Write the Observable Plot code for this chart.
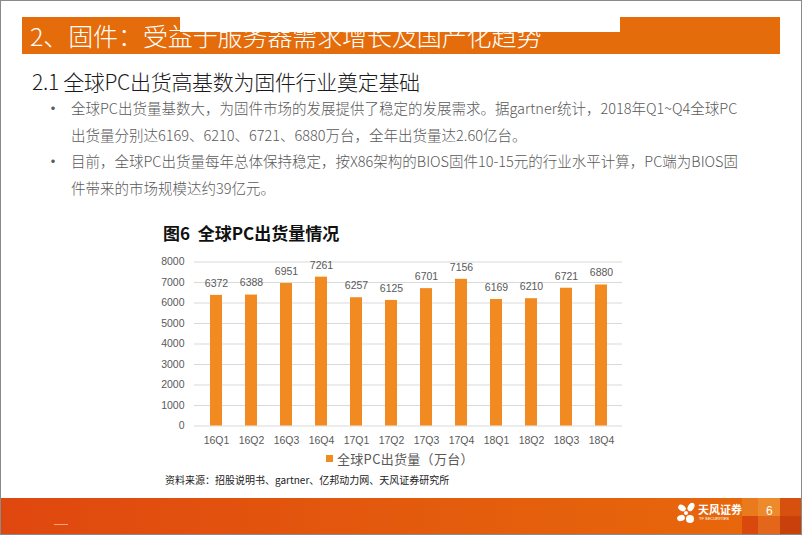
<!DOCTYPE html>
<html>
<head>
<meta charset="utf-8">
<script src="https://cdn.jsdelivr.net/npm/d3@7"></script>
<script src="https://cdn.jsdelivr.net/npm/@observablehq/plot@0.6"></script>
<style>
  html, body { margin: 0; padding: 0; background: #fff; }
  #slide { position: relative; width: 802px; height: 535px; overflow: hidden; background: #fff;
           font-family: "Noto Sans CJK SC", "Noto Sans", sans-serif; }
  .abs { position: absolute; white-space: nowrap; }
  #border { position: absolute; left: 0; top: 0; width: 800px; height: 533px; border: 1px solid #8a8a8a; pointer-events: none; z-index: 10; }
  #hdr { left: 22px; top: 17px; width: 758px; height: 37px; background: #E46C0A; }
  #hdrWhite { left: 180px; top: 17px; width: 440px; height: 15px; background: #fff; z-index: 2; }
  #hdrText { left: 30px; top: 19px; font-size: 25px; line-height: 32px; color: #fff; font-weight: 300; z-index: 3; letter-spacing: -0.1px; }
  #sub { left: 32px; top: 67px; font-size: 21px; line-height: 28px; color: #1a1a1a; font-weight: 300; letter-spacing: -0.3px; }
  .bul { font-size: 14.5px; line-height: 20px; color: #595959; font-weight: 300; }
  .dot { font-size: 16px; line-height: 20px; color: #595959; }
  #ctitle { left: 163px; top: 221px; font-size: 17px; line-height: 24px; font-weight: 700; color: #111; }
  #legend { left: 326px; top: 450px; font-size: 13px; line-height: 18px; color: #595959; letter-spacing: 0.3px; }
  #legend span.sw { display: inline-block; width: 7px; height: 7px; background: #F28A22; margin-right: 4px; vertical-align: 2px; }
  #source { left: 165px; top: 472px; font-size: 10px; line-height: 16px; color: #222; }
  #footer { left: 0; top: 498px; width: 802px; height: 37px;
            background: linear-gradient(90deg, #E0470F 0%, #E35A0D 50%, #E8690B 100%); }
  #chart { left: 150px; top: 240px; }
</style>
</head>
<body>
<div id="slide">
  <div id="hdr" class="abs"></div>
  <div id="hdrWhite" class="abs"></div>
  <div id="hdrText" class="abs">2、固件：受益于服务器需求增长及国产化趋势</div>
  <div id="sub" class="abs">2.1 全球PC出货高基数为固件行业奠定基础</div>

  <div class="abs dot" style="left:45px; top:97px;">•</div>
  <div class="abs bul" style="left:71px; top:98px;">全球PC出货量基数大，为固件市场的发展提供了稳定的发展需求。据gartner统计，2018年Q1~Q4全球PC</div>
  <div class="abs bul" style="left:71px; top:125px;">出货量分别达6169、6210、6721、6880万台，全年出货量达2.60亿台。</div>
  <div class="abs dot" style="left:45px; top:150px;">•</div>
  <div class="abs bul" style="left:71px; top:151px;">目前，全球PC出货量每年总体保持稳定，按X86架构的BIOS固件10-15元的行业水平计算，PC端为BIOS固</div>
  <div class="abs bul" style="left:71px; top:178px;">件带来的市场规模达约39亿元。</div>

  <div id="ctitle" class="abs">图6&nbsp;&nbsp;全球PC出货量情况</div>
  <div id="chart" class="abs"></div>
  <div id="legend" class="abs"><span class="sw"></span>全球PC出货量（万台）</div>
  <div id="source" class="abs">资料来源：招股说明书、gartner、亿邦动力网、天风证券研究所</div>

  <div id="footer" class="abs"></div>
  <div class="abs" style="left:54px; top:524px; width:14px; height:1px; background:#F3A57E;"></div>
  <!-- decorative squares at right of footer -->
  <div class="abs" style="left:742px; top:498px; width:16px; height:18px; background:#E97A1E;"></div>
  <div class="abs" style="left:758px; top:498px; width:22px; height:18px; background:#EC8A2C;"></div>
  <div class="abs" style="left:780px; top:498px; width:22px; height:18px; background:#D8500E;"></div>
  <div class="abs" style="left:742px; top:516px; width:16px; height:19px; background:#D9480C;"></div>
  <div class="abs" style="left:758px; top:516px; width:22px; height:19px; background:#E4661A;"></div>
  <div class="abs" style="left:780px; top:516px; width:22px; height:19px; background:#C8400A;"></div>
  <div class="abs" style="left:766px; top:504px; font-size:12px; line-height:14px; color:#fff; font-family:'Liberation Sans', Arial, sans-serif;">6</div>
  <!-- logo -->
  <svg class="abs" style="left:676px; top:502px;" width="22" height="24" viewBox="0 0 22 24">
    <ellipse cx="6" cy="6" rx="4" ry="3" fill="#fff" transform="rotate(30 6 6)"/>
    <ellipse cx="15" cy="5" rx="3" ry="4.5" fill="#fff" transform="rotate(30 15 5)"/>
    <ellipse cx="5" cy="16" rx="4" ry="3" fill="#fff" transform="rotate(-20 5 16)"/>
    <ellipse cx="14" cy="17" rx="4" ry="4" fill="#fff"/>
    <circle cx="10" cy="11" r="2" fill="#fff"/>
  </svg>
  <div class="abs" style="left:698px; top:503px; font-size:11px; line-height:13px; color:#fff; font-weight:700;">天风证券</div>
  <div class="abs" style="left:699px; top:516px; font-size:4px; line-height:5px; color:#fff; font-family:'Liberation Sans', Arial, sans-serif;">TF SECURITIES</div>
  <div id="border"></div>
</div>
<script>
const quarters = ["16Q1","16Q2","16Q3","16Q4","17Q1","17Q2","17Q3","17Q4","18Q1","18Q2","18Q3","18Q4"];
const shipments = [6372, 6388, 6951, 7261, 6257, 6125, 6701, 7156, 6169, 6210, 6721, 6880];
const yTicks = [0, 1000, 2000, 3000, 4000, 5000, 6000, 7000, 8000];
const seriesName = "全球PC出货量（万台）";

const rows = quarters.map((q, i) => ({ quarter: q, value: shipments[i] }));

const chart = Plot.plot({
  width: 490,
  height: 215,
  marginLeft: 44,
  marginRight: 18,
  marginTop: 21.5,
  marginBottom: 29.5,
  style: { fontFamily: "'Liberation Sans', Arial, sans-serif", fontSize: "10.5px", color: "#595959", background: "transparent" },
  x: { domain: quarters, paddingInner: 0.67, paddingOuter: 0.33, label: null, tickSize: 0, tickPadding: 11 },
  y: { domain: [0, 8000], ticks: yTicks, label: null, tickSize: 0, tickPadding: 10, tickFormat: d => String(d) },
  marks: [
    Plot.gridY(yTicks, { stroke: "#D9D9D9", strokeOpacity: 1, strokeWidth: 1 }),
    Plot.barY(rows, { x: "quarter", y: "value", fill: "#F28A22" }),
    Plot.text(rows, { x: "quarter", y: "value", text: d => String(d.value), dy: -12, fill: "#595959", fontSize: 10.5 }),
    Plot.axisX({ tickSize: 0, tickPadding: 11, fill: "#595959" }),
    Plot.axisY({ ticks: yTicks, tickSize: 0, tickPadding: 10, fill: "#595959", tickFormat: d => String(d) })
  ]
});
document.getElementById("chart").appendChild(chart);
</script>
</body>
</html>
